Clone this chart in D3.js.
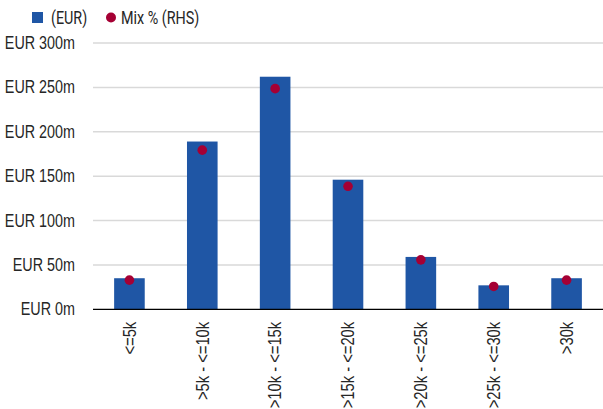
<!DOCTYPE html>
<html>
<head>
<meta charset="utf-8">
<script src="https://cdn.jsdelivr.net/npm/d3@7"></script>
<style>
  html, body { margin: 0; padding: 0; background: #fff; }
  svg { display: block; font-family: Roboto, "Liberation Sans", Arial, sans-serif; }
</style>
</head>
<body>
<svg id="chart" width="603" height="409"></svg>
<script>
// Loan size buckets
const categories = ["<=5k", ">5k - <=10k", ">10k - <=15k", ">15k - <=20k", ">20k - <=25k", ">25k - <=30k", ">30k"];
// Outstanding balance per bucket, EUR millions (left axis)
const balances = [35, 189, 262, 146, 59, 27, 35];
// Share of the portfolio per bucket, % (right axis, not drawn)
const mixPct = [4.6, 25.1, 34.8, 19.4, 7.8, 3.6, 4.6];
// Left axis ticks, EUR millions
const yTicks = [0, 50, 100, 150, 200, 250, 300];
const legendItems = ["(EUR)", "Mix % (RHS)"];

const barColor = "#1f56a5";
const dotColor = "#a50034";
const textColor = "#262626";
// Horizontal squeeze applied to text to get a condensed face
const narrow = 0.82;

const svg = d3.select("#chart");
const margin = { top: 43, right: 0, bottom: 100, left: 93 };
const width = 603 - margin.left - margin.right;
const height = 409 - margin.top - margin.bottom + 0.3;

const g = svg.append("g").attr("transform", `translate(${margin.left},${margin.top})`);

const x = d3.scaleBand().domain(categories).range([0, width]).paddingInner(0.58).paddingOuter(0.29);
const y = d3.scaleLinear().domain([0, 300]).range([height, 0]);
const y2 = d3.scaleLinear().domain([0, 42]).range([height, 0]);

// Gridlines
g.append("g")
  .selectAll("line")
  .data(yTicks.filter(d => d > 0))
  .join("line")
  .attr("x1", 0).attr("x2", width)
  .attr("y1", d => y(d)).attr("y2", d => y(d))
  .attr("stroke", "#d9d9d9").attr("stroke-width", 1.5);

// Left axis labels
const yAxis = g.append("g")
  .call(d3.axisLeft(y).tickValues(yTicks).tickSize(0).tickPadding(0).tickFormat(d => `EUR ${d}m`));
yAxis.select(".domain").remove();
yAxis.selectAll("text")
  .attr("font-size", 17.5)
  .attr("fill", textColor)
  .attr("x", 0)
  .attr("transform", `translate(-18,0) scale(${narrow},1)`);

// Bars
g.append("g")
  .selectAll("rect")
  .data(categories)
  .join("rect")
  .attr("x", d => x(d))
  .attr("width", x.bandwidth())
  .attr("y", (d, i) => y(balances[i]))
  .attr("height", (d, i) => height - y(balances[i]))
  .attr("fill", barColor);

// Baseline and category labels
const xAxis = g.append("g")
  .attr("transform", `translate(0,${height})`)
  .call(d3.axisBottom(x).tickSize(0).tickPadding(0));
xAxis.select(".domain").attr("stroke", "#000").attr("stroke-width", 1.3)
  .attr("d", `M0,0H${width}`);
xAxis.selectAll("text")
  .attr("font-size", 18)
  .attr("fill", textColor)
  .attr("text-anchor", "end")
  .attr("dy", "0.35em")
  .attr("x", 0).attr("y", 0)
  .attr("transform", `translate(0,12.5) rotate(-90) scale(${narrow},1)`);

// Mix % markers
g.append("g")
  .selectAll("circle")
  .data(categories)
  .join("circle")
  .attr("cx", d => x(d) + x.bandwidth() / 2)
  .attr("cy", (d, i) => y2(mixPct[i]))
  .attr("r", 4.8)
  .attr("fill", dotColor);

// Legend
const legend = svg.append("g").attr("font-size", 17.5).attr("fill", textColor);
legend.append("rect").attr("x", 32).attr("y", 12).attr("width", 11).attr("height", 11).attr("fill", barColor);
legend.append("text").attr("transform", `translate(51,17.5) scale(${narrow},1)`).attr("dy", "0.35em").text(legendItems[0]);
legend.append("circle").attr("cx", 111).attr("cy", 17.5).attr("r", 5).attr("fill", dotColor);
legend.append("text").attr("transform", `translate(121,17.5) scale(${narrow},1)`).attr("dy", "0.35em").text(legendItems[1]);
</script>
</body>
</html>
